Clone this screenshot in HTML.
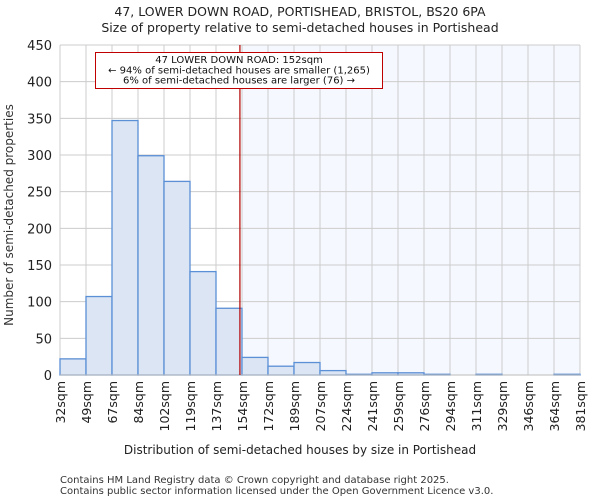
<!DOCTYPE html>
<html><head><meta charset="utf-8"><style>
body{margin:0;background:#fff;font-family:"DejaVu Sans","Liberation Sans",sans-serif;}
svg text{font-family:"DejaVu Sans","Liberation Sans",sans-serif;}
</style></head><body>
<svg id="c" width="600" height="500" xmlns="http://www.w3.org/2000/svg">
<text x="300" y="16" text-anchor="middle" font-size="12.5" fill="#222">47, LOWER DOWN ROAD, PORTISHEAD, BRISTOL, BS20 6PA</text>
<text x="300" y="32" text-anchor="middle" font-size="12.5" fill="#222">Size of property relative to semi-detached houses in Portishead</text>
<g id="plot"></g>
<text x="300" y="454" text-anchor="middle" font-size="12" fill="#222">Distribution of semi-detached houses by size in Portishead</text>
<text transform="translate(13,215) rotate(-90)" text-anchor="middle" font-size="12" fill="#333">Number of semi-detached properties</text>
<text x="60" y="483" font-size="10" fill="#333">Contains HM Land Registry data © Crown copyright and database right 2025.</text>
<text x="60" y="494" font-size="10" fill="#333">Contains public sector information licensed under the Open Government Licence v3.0.</text>
</svg>
<script>
const binLabels=["32sqm","49sqm","67sqm","84sqm","102sqm","119sqm","137sqm","154sqm","172sqm","189sqm","207sqm","224sqm","241sqm","259sqm","276sqm","294sqm","311sqm","329sqm","346sqm","364sqm","381sqm"];
const counts=[22,107,347,299,264,141,91,24,12,17,6,1,3,3,1,0,1,0,0,1];
const yTicks=[0,50,100,150,200,250,300,350,400,450];
const propertyIndex=6.92;
const NS="http://www.w3.org/2000/svg";
const g=document.getElementById('plot');
const X0=60,X1=580,Y0=375,Y1=45,nb=counts.length;
const bw=(X1-X0)/nb;
const xs=i=>X0+i*bw;
const ys=v=>Y0-(v/450)*(Y0-Y1);
function el(t,a){const e=document.createElementNS(NS,t);for(const k in a)e.setAttribute(k,a[k]);g.appendChild(e);return e;}
const redX=xs(propertyIndex);
let r=el('rect',{x:xs(7),y:Y1,width:X1-xs(7),height:Y0-Y1,fill:'#f5f8fe'});


for(let i=0;i<=nb;i++){let l=el('line',{x1:xs(i),x2:xs(i),y1:Y1,y2:Y0,stroke:'#cccccc'});

}
yTicks.forEach(v=>{let l=el('line',{x1:X0,x2:X1,y1:ys(v),y2:ys(v),stroke:'#cccccc'});


let t=el('text',{x:X0-8,y:ys(v)+5,'text-anchor':'end','font-size':'13',fill:'#222'});t.textContent=v;

});
counts.forEach((c,i)=>{if(c<=0)return;let b=el('rect',{x:xs(i),y:ys(c),width:bw,height:ys(0)-ys(c),fill:'#dbe5f4',stroke:'#5b8fd6','stroke-width':'1.3'});

});
binLabels.forEach((s,i)=>{let t=el('text',{transform:`translate(${xs(i)+5},381) rotate(-90)`,'text-anchor':'end','font-size':'12.5',fill:'#222'});t.textContent=s;

});
let ax=el('line',{x1:X0,x2:X1,y1:Y0,y2:Y0,stroke:'#bbb'});


let rl=el('line',{x1:redX,x2:redX,y1:Y1,y2:Y0,stroke:'#b00000','stroke-width':'1.2'});


let box=el('rect',{x:95.5,y:52.5,width:287,height:36,fill:'#fff',stroke:'#c00000'});


["47 LOWER DOWN ROAD: 152sqm","← 94% of semi-detached houses are smaller (1,265)","6% of semi-detached houses are larger (76) →"].forEach((s,i)=>{
let t=el('text',{x:239,y:63+i*10.3,'text-anchor':'middle','font-size':'10','textLength':i==0?'':undefined,fill:'#111'});t.textContent=s;
t.removeAttribute('textLength');

});
</script>
</body></html>
